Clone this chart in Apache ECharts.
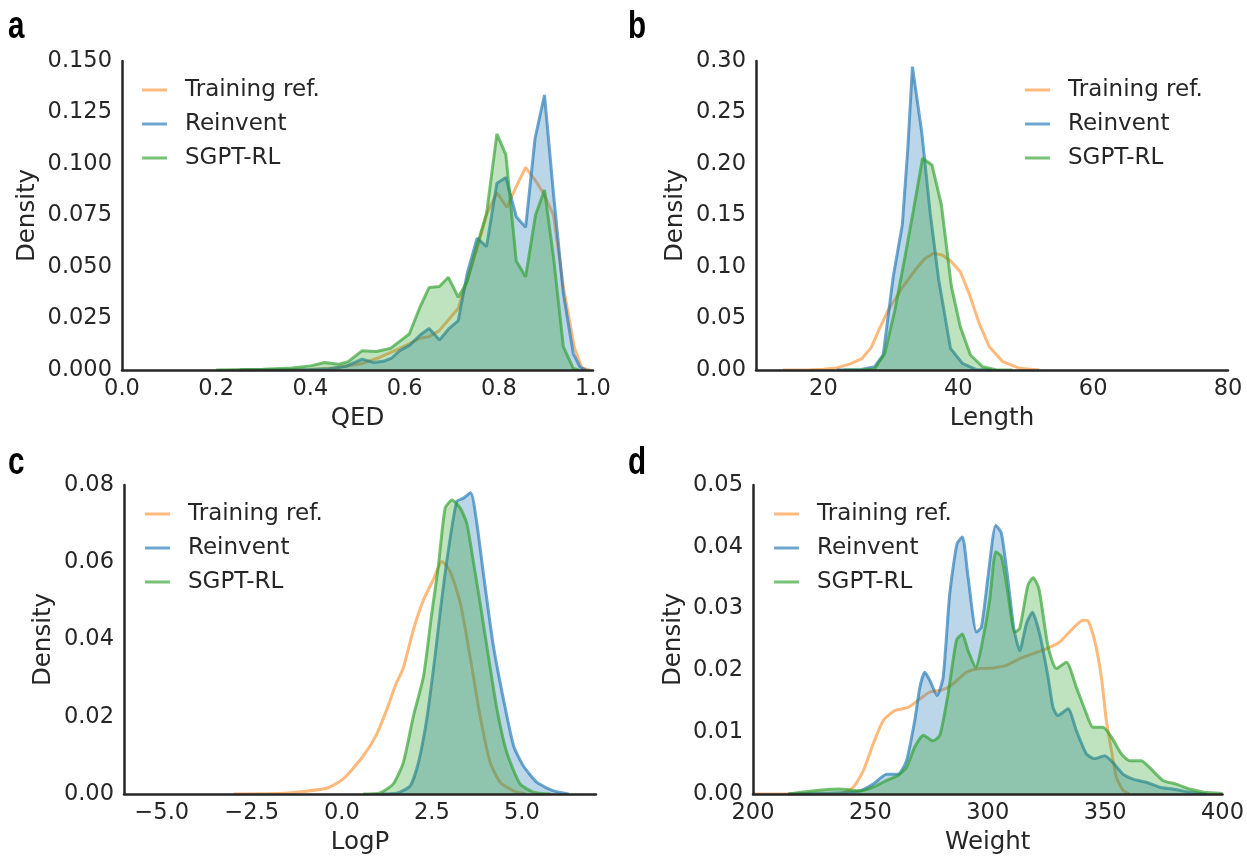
<!DOCTYPE html>
<html>
<head>
<meta charset="utf-8">
<script src="https://cdn.jsdelivr.net/npm/echarts@6/dist/echarts.min.js"></script>
<style>
  html, body { margin: 0; padding: 0; background: #fff; }
  #container { width: 1247px; height: 856px; }
</style>
</head>
<body>
<div id="container"></div>
<script>
var dom = document.getElementById("container");
var myChart = echarts.init(dom, null, { renderer: "canvas" });

const seriesNames = ["Training ref.", "Reinvent", "SGPT-RL"];

// a: QED
const qedTrainX = [0.25, 0.40, 0.45, 0.51, 0.548, 0.590, 0.633, 0.652, 0.673, 0.693, 0.714, 0.735, 0.754, 0.775, 0.796, 0.817, 0.837, 0.857, 0.877, 0.897, 0.916, 0.937, 0.960, 0.976, 0.993];
const qedTrainY = [0, 0.0003, 0.0010, 0.0032, 0.0062, 0.0105, 0.0154, 0.0162, 0.019, 0.0243, 0.030, 0.0453, 0.059, 0.076, 0.086, 0.079, 0.089, 0.0984, 0.0922, 0.085, 0.0752, 0.0404, 0.0113, 0.001, 0];
const qedReinX = [0.25, 0.40, 0.44, 0.475, 0.51, 0.535, 0.555, 0.572, 0.590, 0.611, 0.633, 0.652, 0.674, 0.693, 0.714, 0.733, 0.754, 0.774, 0.796, 0.815, 0.837, 0.857, 0.877, 0.897, 0.916, 0.937, 0.958, 0.972, 0.985];
const qedReinY = [0, 0.0002, 0.0006, 0.0018, 0.0053, 0.0036, 0.0042, 0.0057, 0.0094, 0.0121, 0.017, 0.0202, 0.0146, 0.0198, 0.024, 0.047, 0.064, 0.0599, 0.0906, 0.0935, 0.0744, 0.0693, 0.1125, 0.1335, 0.0858, 0.0372, 0.0081, 0.0016, 0];
const qedSgptX = [0.2, 0.30, 0.36, 0.40, 0.43, 0.46, 0.48, 0.51, 0.54, 0.57, 0.61, 0.633, 0.652, 0.674, 0.693, 0.714, 0.733, 0.753, 0.774, 0.796, 0.815, 0.837, 0.857, 0.878, 0.897, 0.916, 0.937, 0.958, 0.97];
const qedSgptY = [0, 0.0004, 0.001, 0.002, 0.0036, 0.0028, 0.004, 0.0094, 0.009, 0.0105, 0.0175, 0.0307, 0.040, 0.0405, 0.045, 0.0353, 0.043, 0.0599, 0.076, 0.1146, 0.1044, 0.0529, 0.0453, 0.0752, 0.0874, 0.055, 0.0113, 0.0008, 0];

// b: Length
const lenTrainX = [14, 18, 20, 22, 24, 25.7, 27.1, 28.3, 29.6, 31.6, 33.6, 35.1, 36.35, 37.6, 38.84, 40.3, 41.6, 43.1, 44.6, 46.6, 49.1, 52];
const lenTrainY = [0, 0.0002, 0.0008, 0.002, 0.006, 0.011, 0.022, 0.04, 0.058, 0.079, 0.097, 0.1085, 0.1133, 0.1117, 0.106, 0.0954, 0.0744, 0.0453, 0.0226, 0.0081, 0.0016, 0];
const lenReinX = [22, 25.6, 27.6, 28.86, 30.35, 31.7, 32.5, 33.2, 34.6, 35.84, 37.1, 38.84, 40.6, 42.6, 45];
const lenReinY = [0, 0.0005, 0.0032, 0.0146, 0.0906, 0.141, 0.2136, 0.2945, 0.2298, 0.152, 0.0874, 0.021, 0.0065, 0.0006, 0];
const lenSgptX = [23, 26, 27.6, 29.1, 30.6, 32.1, 33.35, 34.7, 36.1, 37.5, 38.98, 40.3, 41.8, 43.6, 45.6, 48];
const lenSgptY = [0, 0.0003, 0.001, 0.0162, 0.058, 0.11, 0.155, 0.2055, 0.199, 0.160, 0.0809, 0.042, 0.0146, 0.0032, 0.0003, 0];

// c: LogP
const logpTrainX = [-3, -1.8, -1.34, -0.42, 0.04, 0.60, 0.97, 1.25, 1.48, 1.71, 1.99, 2.27, 2.54, 2.78, 3.01, 3.29, 3.56, 3.84, 4.12, 4.40, 4.77, 5.1];
const logpTrainY = [0, 0.0001, 0.0004, 0.0015, 0.0039, 0.0099, 0.0155, 0.0219, 0.0279, 0.0327, 0.0426, 0.0503, 0.0555, 0.0602, 0.0576, 0.0495, 0.0357, 0.0202, 0.0082, 0.003, 0.0008, 0];
const logpReinX = [1.1, 1.53, 1.90, 2.13, 2.36, 2.59, 2.73, 2.92, 3.19, 3.38, 3.58, 3.75, 3.93, 4.21, 4.49, 4.77, 5.04, 5.42, 5.88, 6.3];
const logpReinY = [0, 0.0002, 0.0021, 0.0082, 0.0194, 0.0357, 0.0469, 0.0606, 0.0757, 0.0766, 0.078, 0.0701, 0.0572, 0.0383, 0.0245, 0.0125, 0.0073, 0.003, 0.0008, 0];
const logpSgptX = [0.6, 1.06, 1.43, 1.71, 1.99, 2.27, 2.50, 2.68, 2.87, 3.06, 3.29, 3.47, 3.66, 3.84, 4.07, 4.31, 4.58, 4.95, 5.32, 5.8];
const logpSgptY = [0, 0.0003, 0.0026, 0.0082, 0.0202, 0.0305, 0.0469, 0.0589, 0.074, 0.0761, 0.074, 0.0701, 0.0598, 0.0495, 0.0357, 0.0219, 0.0108, 0.0026, 0.0005, 0];

// d: Weight
const wtTrainX = [200, 237, 242.7, 247, 251.2, 255.5, 260.4, 266.1, 271.1, 275.3, 281, 285.2, 290.9, 296.6, 302.2, 307.9, 313.6, 319.3, 325, 330.6, 336.3, 340.6, 342.7, 345.5, 348.4, 350.5, 352.7, 354.8, 357.6, 360.4];
const wtTrainY = [0, 0, 0.0011, 0.0038, 0.0081, 0.0119, 0.0135, 0.014, 0.0154, 0.0165, 0.0169, 0.0178, 0.0197, 0.0203, 0.0204, 0.0208, 0.0219, 0.0227, 0.0235, 0.0246, 0.0268, 0.0281, 0.028, 0.0249, 0.0189, 0.0119, 0.007, 0.0027, 0.0006, 0];
const wtReinX = [215, 237, 245.5, 251.2, 256.9, 261.8, 265.4, 268.9, 271.1, 273.2, 275.3, 278.4, 281, 283.8, 286.9, 289.2, 291.6, 295.2, 297.3, 300.1, 303.4, 305.8, 308.6, 311.1, 313.6, 316.5, 319, 322.1, 325.7, 327.8, 329.9, 334.2, 337.7, 342, 345.5, 349.8, 353.3, 357.6, 361.8, 367.5, 373.2, 378.8, 386, 393];
const wtReinY = [0, 0.0002, 0.0005, 0.0016, 0.0032, 0.0032, 0.0054, 0.0119, 0.0173, 0.0197, 0.0184, 0.0159, 0.0189, 0.0324, 0.0405, 0.0416, 0.0351, 0.0262, 0.027, 0.0351, 0.0435, 0.0422, 0.0346, 0.0268, 0.0232, 0.0276, 0.0294, 0.0259, 0.0189, 0.014, 0.0127, 0.0138, 0.0103, 0.0065, 0.0057, 0.0062, 0.0051, 0.0032, 0.0024, 0.0019, 0.0011, 0.0008, 0.0003, 0];
const wtSgptX = [215, 228, 237, 245.5, 251.2, 256.9, 261.8, 265.4, 268.9, 272.6, 276.7, 279.6, 283.1, 286.7, 289.2, 291.6, 294.9, 297.3, 300.8, 303.4, 305.8, 308.6, 311.5, 313.6, 317.1, 319.3, 321.8, 325.7, 329.2, 333.5, 337.7, 342, 344.8, 349.1, 352.7, 356.9, 360.4, 365.4, 368.9, 374.6, 380.3, 386, 392, 400];
const wtSgptY = [0, 0.0006, 0.0008, 0.0005, 0.0011, 0.0022, 0.0030, 0.0043, 0.0076, 0.0095, 0.0086, 0.0095, 0.0162, 0.0249, 0.0259, 0.0232, 0.0205, 0.0238, 0.0313, 0.0392, 0.0384, 0.0324, 0.0262, 0.0268, 0.0338, 0.035, 0.0332, 0.0238, 0.0203, 0.0213, 0.0173, 0.013, 0.0108, 0.0108, 0.0092, 0.0065, 0.0054, 0.0054, 0.0043, 0.0022, 0.0016, 0.0008, 0.0003, 0.0001];

// tick labels
const qedTicks = [0, 0.2, 0.4, 0.6, 0.8, 1.0];
const lenTicks = [20, 40, 60, 80];
const logpTicks = [-5, -2.5, 0, 2.5, 5];
const wtTicks = [200, 250, 300, 350, 400];

const lineColors = ["rgba(255,127,14,0.55)", "rgba(31,119,180,0.65)", "rgba(44,160,44,0.65)"];
const fillColors = [null, "rgba(31,119,180,0.3)", "rgba(44,160,44,0.3)"];
const textColor = "#262626";
const font = "DejaVu Sans";

const panels = [
  { letter: "a", grid: { left: 122, top: 61, width: 471, height: 309 }, xName: "QED",
    xMin: 0, xMax: 1, xTicks: qedTicks, xFmt: (v) => v.toFixed(1),
    yMax: 0.15, yInt: 0.025, yDec: 3, yGap: 82, legend: { left: 142, top: 78 },
    smooth: false, lx: 8, ly: 9,
    data: [[qedTrainX, qedTrainY], [qedReinX, qedReinY], [qedSgptX, qedSgptY]] },
  { letter: "b", grid: { left: 756, top: 61, width: 472, height: 309 }, xName: "Length",
    xMin: 10, xMax: 80, xTicks: lenTicks, xFmt: (v) => String(Math.round(v)),
    yMax: 0.30, yInt: 0.05, yDec: 2, yGap: 68, legend: { left: 1025, top: 78 },
    smooth: false, lx: 628, ly: 9,
    data: [[lenTrainX, lenTrainY], [lenReinX, lenReinY], [lenSgptX, lenSgptY]] },
  { letter: "c", grid: { left: 124, top: 485, width: 472, height: 310 }, xName: "LogP",
    xMin: -6.05, xMax: 7.06, xTicks: logpTicks,
    xFmt: (v) => (v < 0 ? "\u2212" : "") + Math.abs(v).toFixed(1),
    yMax: 0.08, yInt: 0.02, yDec: 2, yGap: 68, legend: { left: 145, top: 502 },
    smooth: 0.2, lx: 8, ly: 445,
    data: [[logpTrainX, logpTrainY], [logpReinX, logpReinY], [logpSgptX, logpSgptY]] },
  { letter: "d", grid: { left: 753, top: 485, width: 470, height: 310 }, xName: "Weight",
    xMin: 200, xMax: 400, xTicks: wtTicks, xFmt: (v) => String(Math.round(v)),
    yMax: 0.05, yInt: 0.01, yDec: 2, yGap: 67, legend: { left: 774, top: 502 },
    smooth: 0.2, lx: 628, ly: 445,
    data: [[wtTrainX, wtTrainY], [wtReinX, wtReinY], [wtSgptX, wtSgptY]] },
];

const axisLine = { show: true, onZero: false, lineStyle: { color: textColor, width: 2.5 } };

const option = {
  backgroundColor: "#fff",
  animation: false,
  grid: panels.map((p) => Object.assign({ containLabel: false }, p.grid)),
  xAxis: panels.map((p, i) => ({
    type: "value",
    gridIndex: i,
    min: p.xMin,
    max: p.xMax,
    z: 5,
    axisLine: axisLine,
    axisTick: { show: false },
    splitLine: { show: false },
    axisLabel: {
      customValues: p.xTicks,
      formatter: p.xFmt,
      color: textColor,
      fontSize: 22.5,
      fontFamily: font,
      margin: 8,
    },
    name: p.xName,
    nameLocation: "middle",
    nameGap: 36,
    nameTextStyle: { color: textColor, fontSize: 24.5, fontFamily: font },
  })),
  yAxis: panels.map((p, i) => ({
    type: "value",
    gridIndex: i,
    min: 0,
    max: p.yMax,
    interval: p.yInt,
    z: 5,
    axisLine: axisLine,
    axisTick: { show: false },
    splitLine: { show: false },
    axisLabel: {
      formatter: (v) => v.toFixed(p.yDec),
      color: textColor,
      fontSize: 22.5,
      fontFamily: font,
      margin: 10,
    },
    name: "Density",
    nameLocation: "middle",
    nameGap: p.yGap,
    nameTextStyle: { color: textColor, fontSize: 24.5, fontFamily: font },
  })),
  legend: panels.map((p) => ({
    orient: "vertical",
    left: p.legend.left,
    top: p.legend.top,
    padding: 0,
    itemGap: 10,
    itemWidth: 25,
    itemHeight: 3,
    icon: "rect",
    itemStyle: { borderWidth: 0 },
    selectedMode: false,
    textStyle: { fontSize: 23, color: textColor, fontFamily: font, lineHeight: 24, padding: [0, 0, 0, 13] },
    data: seriesNames.map((n, k) => ({ name: n, itemStyle: { color: lineColors[k], borderWidth: 0 } })),
  })),
  series: [],
  graphic: {
    elements: panels.map((p) => ({
      type: "text",
      x: p.lx,
      y: p.ly,
      scaleX: 0.78,
      style: {
        text: p.letter,
        font: "bold 38px 'Liberation Sans', Arial, sans-serif",
        fill: "#000",
        textVerticalAlign: "top",
      },
    })),
  },
};

panels.forEach((p, i) => {
  p.data.forEach((pair, k) => {
    const xs = pair[0], ys = pair[1];
    const s = {
      type: "line",
      name: seriesNames[k],
      xAxisIndex: i,
      yAxisIndex: i,
      data: xs.map((x, j) => [x, ys[j]]),
      showSymbol: false,
      symbol: "none",
      smooth: p.smooth,
      lineStyle: { color: lineColors[k], width: 3 },
      itemStyle: { color: lineColors[k] },
      z: 2 + k,
    };
    if (fillColors[k]) {
      s.areaStyle = { color: fillColors[k], opacity: 1 };
    }
    option.series.push(s);
  });
});

myChart.setOption(option);

window.addEventListener("resize", myChart.resize);
</script>
</body>
</html>
